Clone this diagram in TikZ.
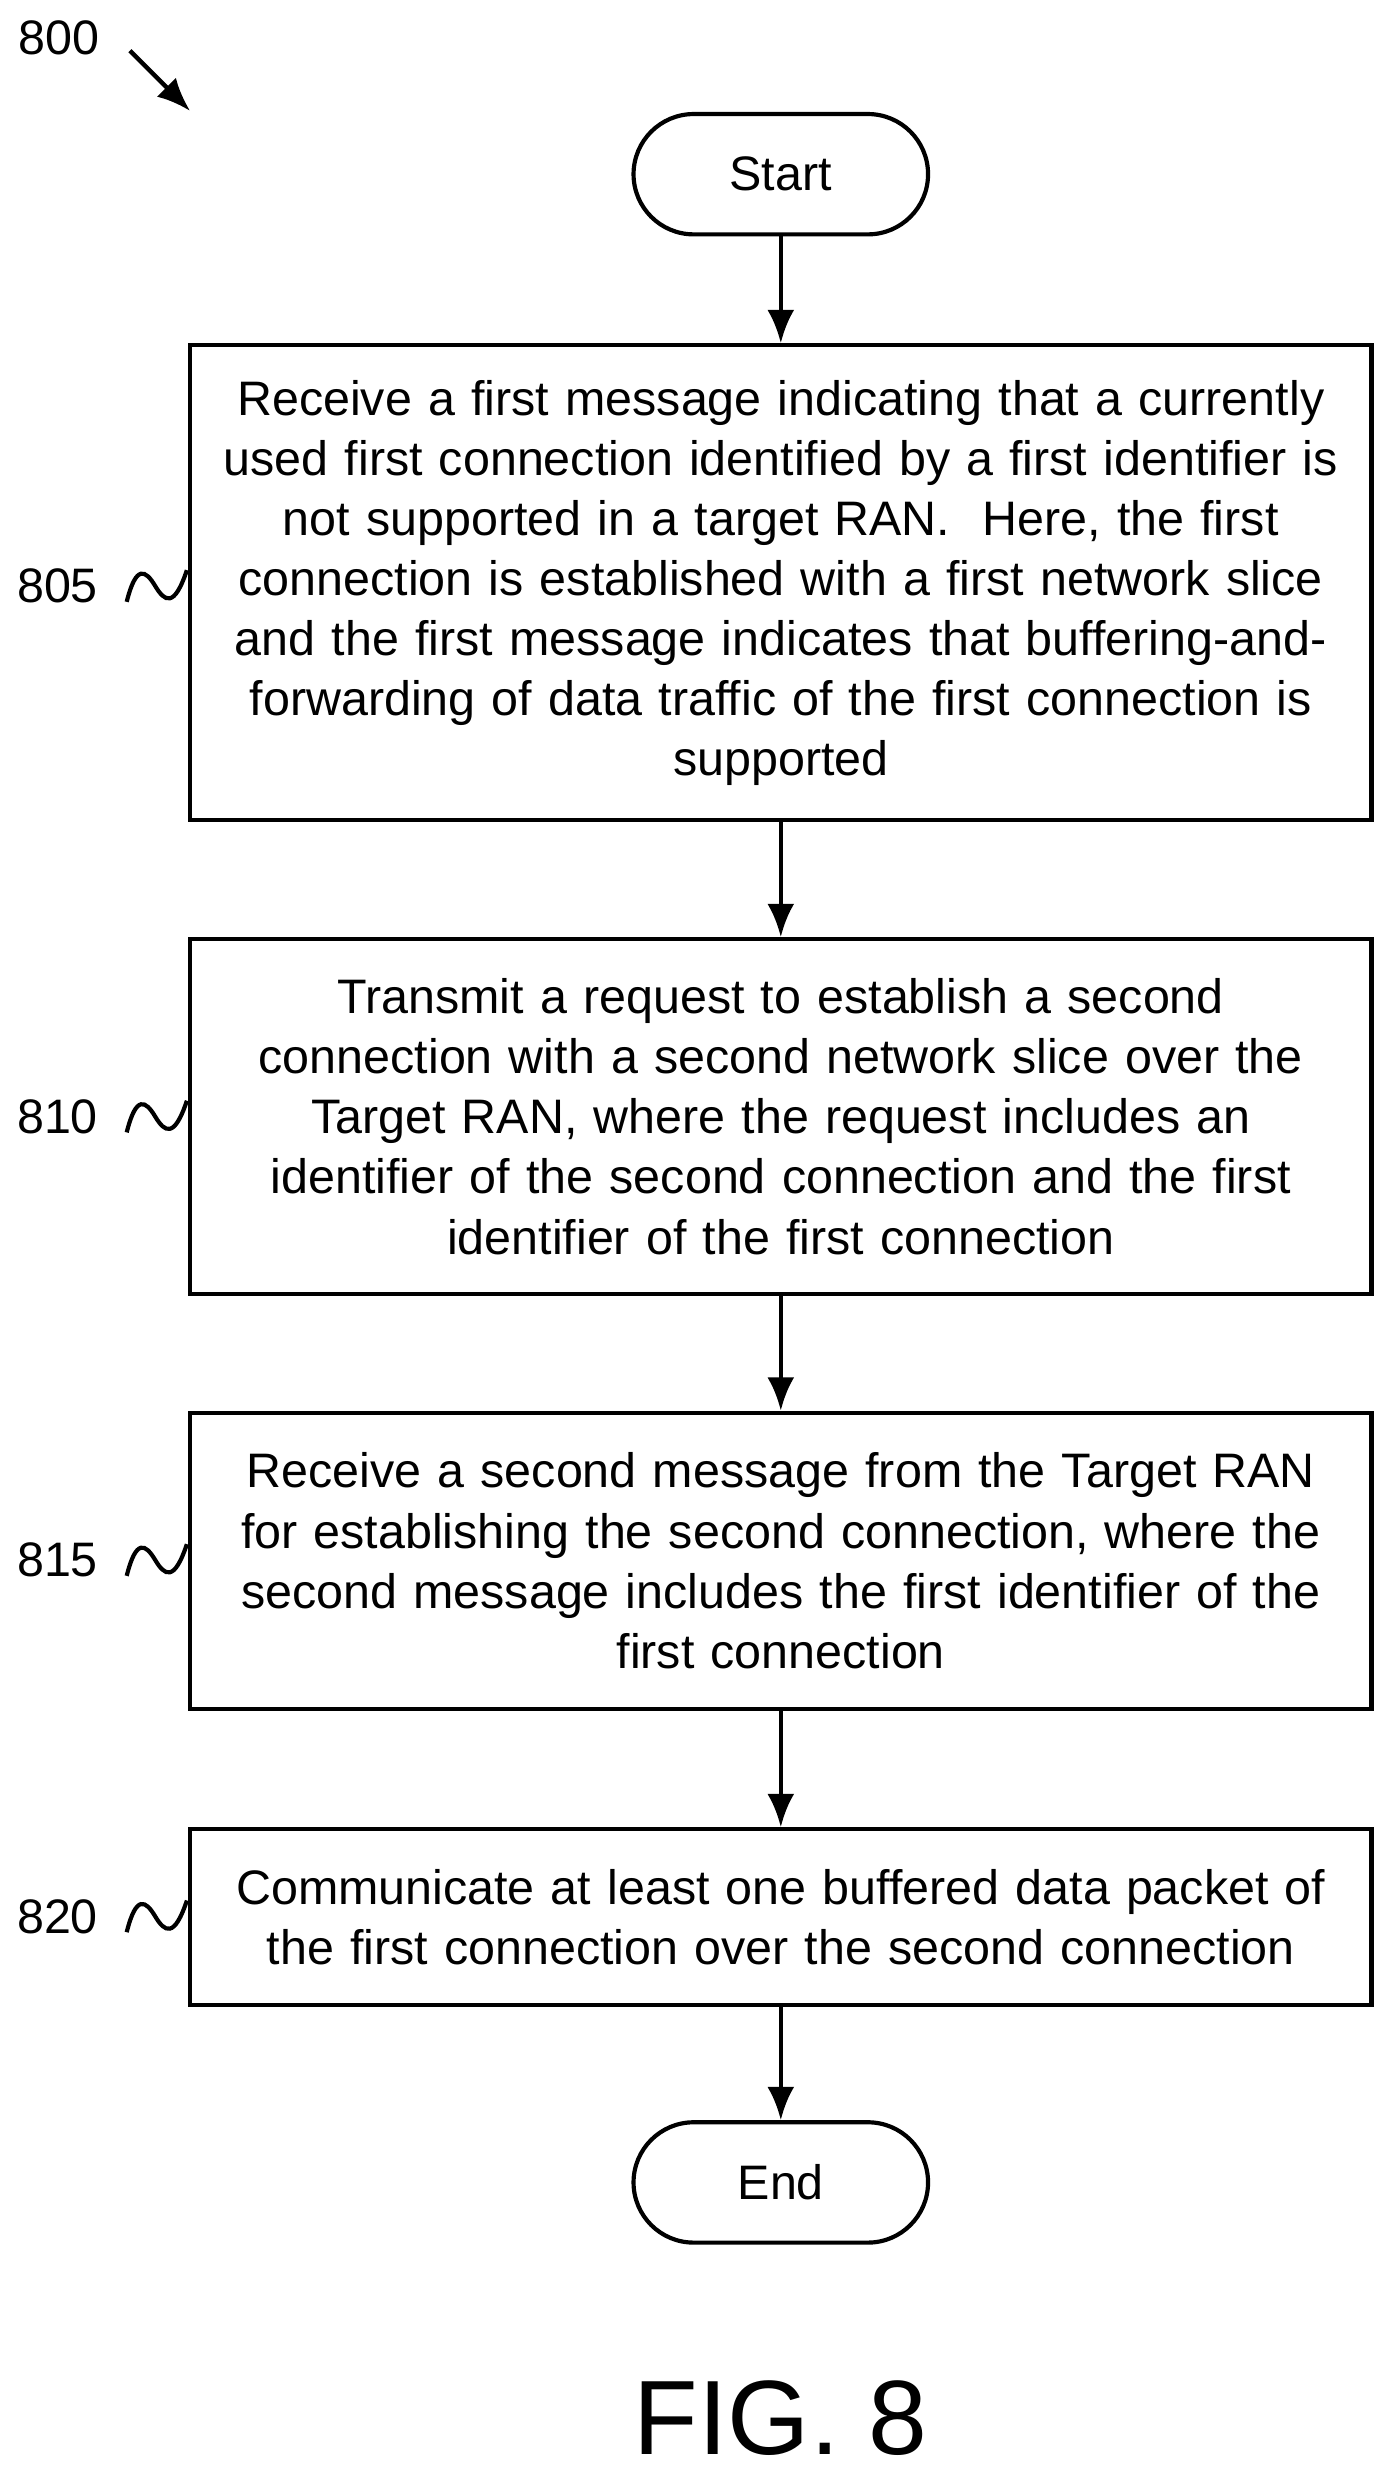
\documentclass[tikz,border=0pt]{standalone}
\usepackage{fontspec}
\setmainfont{Liberation Sans}
\usetikzlibrary{arrows.meta}
\usetikzlibrary{positioning}
\tikzstyle{stepBox} = [rectangle, draw, line width=1.5pt, text width=14.6cm, align=center, inner sep=0pt, minimum width=14.92cm]
\tikzstyle{termNode} = [rectangle, rounded corners=0.76cm, draw, line width=1.5pt, minimum width=3.72cm, minimum height=1.52cm]
\tikzstyle{flowArrow} = [-{Latex[length=0.42cm,width=0.34cm]}, line width=1.6pt]
\tikzstyle{refLabel} = [anchor=east]
\begin{document}
\begin{tikzpicture}[x=0.02cm, y=-0.02cm, font=\fontsize{17.4}{21.6}\selectfont]
	\useasboundingbox (0,0) rectangle (880,1564);

	\node[termNode] at (493,110)(start){Start};

	\node[stepBox, minimum height=6cm] at (493,368)(step-805){Receive a first message indicating that a currently\\used first connection identified by a first identifier is\\not supported in a target RAN.\ \ Here, the first\\connection is established with a first network slice\\and the first message indicates that buffering-and-\\forwarding of data traffic of the first connection is\\supported};

	\node[stepBox, minimum height=4.48cm] at (493,705)(step-810){Transmit a request to establish a second\\connection with a second network slice over the\\Target RAN, where the request includes an\\identifier of the second connection and the first\\identifier of the first connection};

	\node[stepBox, minimum height=3.74cm] at (493,985.5)(step-815){Receive a second message from the Target RAN\\for establishing the second connection, where the\\second message includes the first identifier of the\\first connection};

	\node[stepBox, minimum height=2.22cm] at (493,1210.5)(step-820){Communicate at least one buffered data packet of\\the first connection over the second connection};

	\node[termNode] at (493,1378)(end){End};

	% arrows between steps
	\draw[flowArrow] (start) -- (step-805);
	\draw[flowArrow] (step-805) -- (step-810);
	\draw[flowArrow] (step-810) -- (step-815);
	\draw[flowArrow] (step-815) -- (step-820);
	\draw[flowArrow] (step-820) -- (end);

	% step labels
	\foreach \lbl/\yy in {805/370, 810/705, 815/985, 820/1210}{
		\node[refLabel] at (68,\yy)(lbl-\lbl){\lbl};
		\draw[line width=1.5pt] (80,\yy+10) .. controls (86,\yy-14) and (92,\yy-10) .. (98,\yy) .. controls (104,\yy+10) and (110,\yy+14) .. (118,\yy-10);
	}

	\node at (37,24)(fig-num){800};
	\coordinate (fig-tip) at (120,70);
	\draw[flowArrow] (82,32) -- (fig-tip);

	\node[font=\fontsize{38}{42}\selectfont] at (493,1527)(caption){FIG. 8};
\end{tikzpicture}
\end{document}
